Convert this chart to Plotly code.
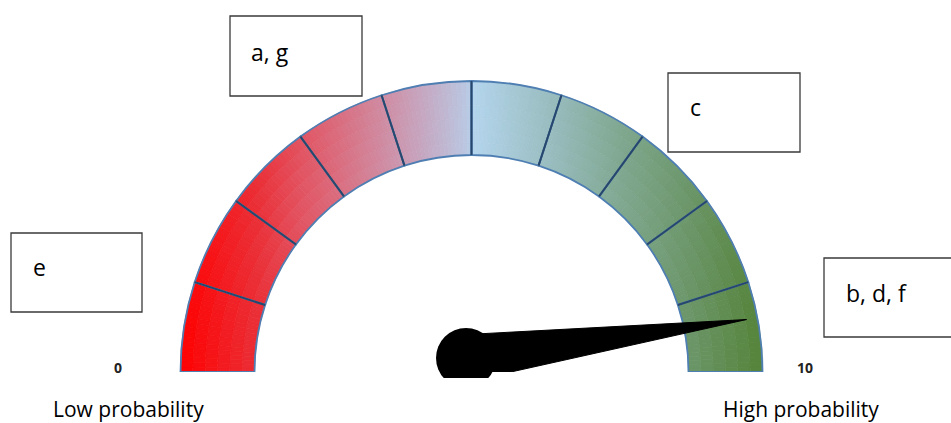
import math
import plotly.graph_objects as go

# ---------------- data ----------------
scale_min, scale_max = 0, 10
segment_values = [1] * 10            # ten equal bands of the gauge
needle_value = 9.4
end_labels = ["0", "10"]
end_captions = ["Low probability", "High probability"]
box_labels = ["a, g", "c", "e", "b, d, f"]

# ---------------- styling ----------------
W, H = 951, 423
CX, CY = 471.5, 372          # gauge centre in pixels (from top-left)
R_AX = 300                   # radial axis span (1 unit = 1 px)
R_IN, R_OUT = 217, 291
DEG_PER_UNIT = 180.0 / (scale_max - scale_min)

grad_stops = [
    (0.000, (255, 0, 0)),
    (0.136, (234, 48, 56)),
    (0.210, (226, 84, 98)),
    (0.310, (213, 124, 144)),
    (0.410, (199, 164, 190)),
    (0.494, (186, 200, 226)),
    (0.504, (180, 213, 237)),
    (0.650, (150, 186, 186)),
    (0.753, (128, 168, 145)),
    (0.872, (108, 150, 105)),
    (1.000, (84, 131, 56)),
]


def grad_color(t):
    t = max(0.0, min(1.0, t))
    for (t0, c0), (t1, c1) in zip(grad_stops[:-1], grad_stops[1:]):
        if t <= t1:
            f = 0 if t1 == t0 else (t - t0) / (t1 - t0)
            c = [round(a + (b - a) * f) for a, b in zip(c0, c1)]
            return "rgb(%d,%d,%d)" % tuple(c)
    return "rgb(%d,%d,%d)" % grad_stops[-1][1]


fig = go.Figure()

# gradient fill of the band (styling: thin slices coloured by horizontal position)
n_ang, n_rad = 180, 6
dr = (R_OUT - R_IN) / n_rad
th, base, rr, cols = [], [], [], []
for i in range(n_ang):
    theta = (i + 0.5) * 180.0 / n_ang
    for j in range(n_rad):
        rm = R_IN + (j + 0.5) * dr
        x_rel = -rm * math.cos(math.radians(theta))
        t = (x_rel + 293) / 586
        th.append(theta)
        base.append(R_IN + j * dr)
        rr.append(dr)
        cols.append(grad_color(t))
fig.add_trace(go.Barpolar(
    theta=th, r=rr, base=base, width=180.0 / n_ang + 0.05,
    marker=dict(color=cols, line=dict(color=cols, width=0.6)),
    hoverinfo="skip", showlegend=False))

# the ten segments (outline)
seg_starts = [sum(segment_values[:k]) for k in range(len(segment_values))]
fig.add_trace(go.Barpolar(
    theta=[(s + v / 2) * DEG_PER_UNIT for s, v in zip(seg_starts, segment_values)],
    width=[v * DEG_PER_UNIT for v in segment_values],
    r=[R_OUT - R_IN] * len(segment_values), base=[R_IN] * len(segment_values),
    marker=dict(color="rgba(0,0,0,0)", line=dict(color="#4f7fb2", width=1.8)),
    hoverinfo="skip", showlegend=False))

# divider lines between segments
for s in seg_starts[1:]:
    fig.add_trace(go.Scatterpolar(
        r=[R_IN, R_OUT], theta=[s * DEG_PER_UNIT] * 2, mode="lines",
        line=dict(color="#28476c", width=2), hoverinfo="skip", showlegend=False))

# needle
hub_x, hub_y = -5.5, 14.0
tip_len = 280
phi = math.radians(180 - needle_value * DEG_PER_UNIT)
tip = (tip_len * math.cos(phi), tip_len * math.sin(phi))
dx, dy = tip[0] - hub_x, tip[1] - hub_y
L = math.hypot(dx, dy)
nx, ny = -dy / L, dx / L
half_w = 23.5
pts = [tip, (hub_x + nx * half_w, hub_y + ny * half_w),
       (hub_x - nx * half_w, hub_y - ny * half_w), tip]


def to_polar(p):
    r = math.hypot(p[0], p[1])
    ang = math.degrees(math.atan2(p[1], p[0]))
    return r, 180 - ang


pr = [to_polar(p) for p in pts]
fig.add_trace(go.Scatterpolar(
    r=[a for a, b in pr], theta=[b for a, b in pr], mode="lines",
    fill="toself", fillcolor="black", line=dict(color="black", width=1),
    hoverinfo="skip", showlegend=False))
hr, ht = to_polar((hub_x, hub_y))
fig.add_trace(go.Scatterpolar(
    r=[hr], theta=[ht], mode="markers", cliponaxis=False,
    marker=dict(color="black", size=60, line=dict(width=0)),
    hoverinfo="skip", showlegend=False))

fig.update_layout(
    width=W, height=H, autosize=False,
    margin=dict(l=0, r=0, t=0, b=0),
    paper_bgcolor="white", plot_bgcolor="white",
    showlegend=False,
    polar=dict(
        domain=dict(x=[(CX - R_AX) / W, (CX + R_AX) / W],
                    y=[(H - CY) / H, (H - CY + R_AX) / H]),
        sector=[0, 180],
        bgcolor="rgba(0,0,0,0)",
        radialaxis=dict(range=[0, R_AX], visible=False),
        angularaxis=dict(rotation=180, direction="clockwise", visible=False),
        barmode="overlay",
    ),
)


def px(x):
    return x / W


def py(y):
    return 1 - y / H


# white cover to cut the hub at the bottom like the reference
fig.add_shape(type="rect", xref="paper", yref="paper",
              x0=px(420), x1=px(545), y0=0, y1=py(378),
              fillcolor="white", line=dict(width=0), layer="above")

# label boxes
boxes = [(230, 16, 362, 96), (668, 73, 800, 152), (11, 233, 142, 312), (824, 258, 960, 337)]
text_pos = [(249, 52), (688, 107), (31, 267), (844, 293)]
for (x0, y0, x1, y1), (tx, ty), lab in zip(boxes, text_pos, box_labels):
    fig.add_shape(type="rect", xref="paper", yref="paper",
                  x0=px(x0), x1=px(x1), y0=py(y1), y1=py(y0),
                  fillcolor="white", line=dict(color="#3a3a3a", width=1.3), layer="above")
    fig.add_annotation(xref="paper", yref="paper", x=px(tx), y=py(ty),
                       text=lab, showarrow=False, xanchor="left", yanchor="middle",
                       font=dict(family="Open Sans", size=23, color="black"))

# scale end labels
for lab, (tx, ty) in zip(end_labels, [(118, 367), (805, 367)]):
    fig.add_annotation(xref="paper", yref="paper", x=px(tx), y=py(ty),
                       text="<b>%s</b>" % lab, showarrow=False,
                       xanchor="center", yanchor="middle",
                       font=dict(family="Open Sans", size=14, color="#222"))
for lab, (tx, ty) in zip(end_captions, [(128, 409), (801, 409)]):
    fig.add_annotation(xref="paper", yref="paper", x=px(tx), y=py(ty),
                       text=lab, showarrow=False, xanchor="center", yanchor="middle",
                       font=dict(family="Open Sans", size=21, color="black"))

fig.write_html(
    "out.html",
    config={"displayModeBar": False},
    post_script="document.body.style.margin='0';document.body.style.overflow='hidden';",
)
